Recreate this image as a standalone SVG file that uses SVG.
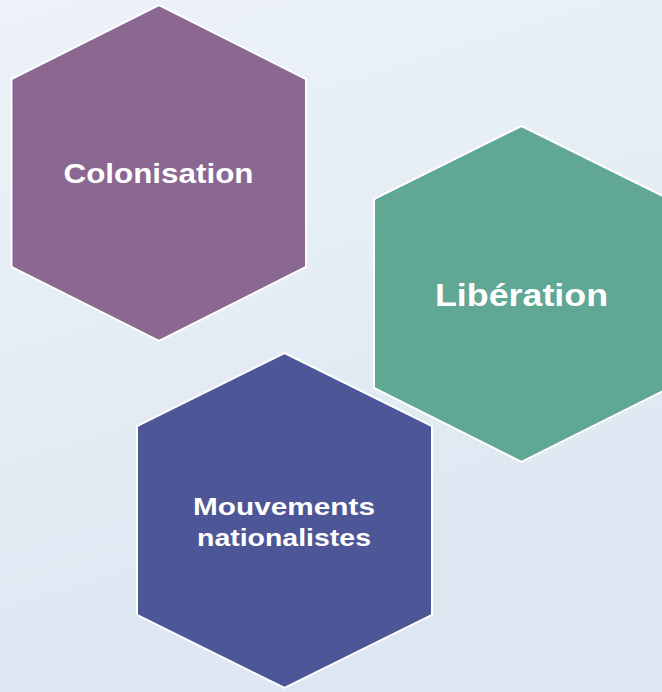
<svg xmlns="http://www.w3.org/2000/svg" width="662" height="692" viewBox="0 0 662 692">
<defs>
<linearGradient id="bg" x1="0" y1="0" x2="0.3" y2="1">
<stop offset="0" stop-color="#EDF2F9"/>
<stop offset="1" stop-color="#DCE7F1"/>
</linearGradient>
<style>
.hex{stroke:#FFFFFF;stroke-width:2;stroke-linejoin:miter}
.lbl{font-family:"Liberation Sans",Arial,sans-serif;font-weight:bold;fill:#FFFFFF;text-anchor:middle}
</style>
</defs>
<rect width="662" height="692" fill="url(#bg)"/>
<g id="colonisation">
<polygon class="hex" fill="#8B6891" points="159,5 306,79 306,267 159,341 11.5,267 11.5,79"/>
<text class="lbl" x="158.5" y="183" font-size="27" textLength="190" lengthAdjust="spacingAndGlyphs">Colonisation</text>
</g>
<g id="liberation">
<polygon class="hex" fill="#60A794" points="521.5,126 669,199 669,388 521.5,462 374,388 374,199"/>
<text class="lbl" x="521.5" y="306" font-size="32" textLength="173" lengthAdjust="spacingAndGlyphs">Libération</text>
</g>
<g id="mouvements">
<polygon class="hex" fill="#4D5696" points="284.5,353 432,426 432,615 284.5,688 137,615 137,426"/>
<text class="lbl" font-size="24"><tspan x="284" y="515" textLength="182" lengthAdjust="spacingAndGlyphs">Mouvements</tspan><tspan x="284" y="546" textLength="174" lengthAdjust="spacingAndGlyphs">nationalistes</tspan></text>
</g>
<g id="connectors"/>
</svg>
